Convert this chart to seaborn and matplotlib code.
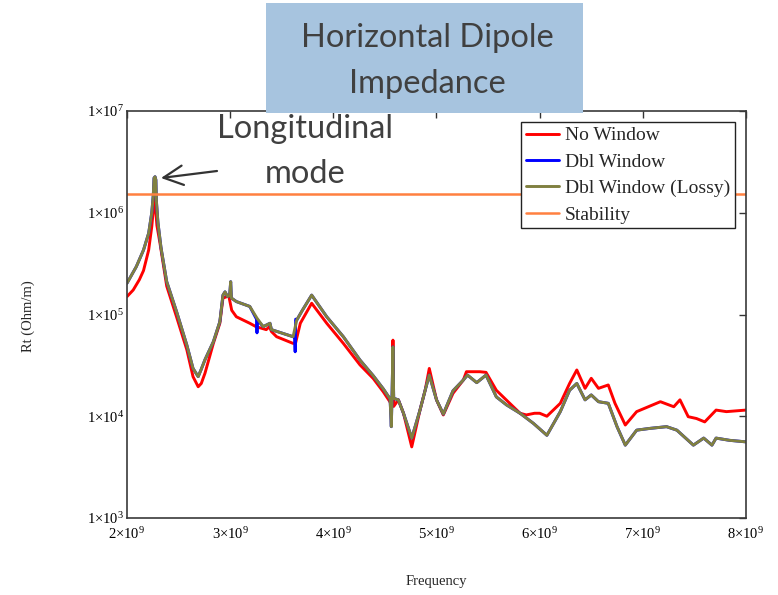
import numpy as np
import matplotlib
matplotlib.use("Agg")
import matplotlib.pyplot as plt
from matplotlib.patches import Rectangle
import seaborn as sns

# ---------------- data ----------------
freq_no_window_ghz = [2.00, 2.06, 2.12, 2.16, 2.21, 2.24, 2.255, 2.265, 2.272, 2.28, 2.29, 2.32,
                      2.385, 2.48, 2.58, 2.64, 2.69, 2.72, 2.756, 2.837, 2.90, 2.93, 2.97, 2.985,
                      3.015, 3.06, 3.19, 3.25, 3.35, 3.38, 3.40, 3.45, 3.61, 3.635, 3.68, 3.79,
                      3.936, 4.097, 4.258, 4.387, 4.484, 4.55, 4.572, 4.578, 4.585, 4.63, 4.68,
                      4.76, 4.84, 4.89, 4.93, 5.00, 5.066, 5.16, 5.26, 5.29, 5.42, 5.48, 5.58,
                      5.71, 5.81, 5.87, 5.95, 6.00, 6.07, 6.20, 6.29, 6.36, 6.44, 6.50, 6.57,
                      6.665, 6.73, 6.83, 6.94, 7.17, 7.30, 7.36, 7.44, 7.52, 7.60, 7.71, 7.81, 8.00]
rt_no_window = [1.5e5, 1.74e5, 2.2e5, 2.7e5, 4.3e5, 7.3e5, 1.07e6, 1.35e6, 1.4e6, 1.0e6, 7.5e5, 5.0e5,
                1.9e5, 9.5e4, 4.5e4, 2.45e4, 1.95e4, 2.1e4, 2.65e4, 5.2e4, 8.2e4, 1.45e5, 1.5e5, 1.55e5,
                1.1e5, 9.5e4, 8.2e4, 7.6e4, 7.1e4, 7.6e4, 6.8e4, 6.05e4, 5.2e4, 5.3e4, 8.2e4, 1.29e5,
                8.2e4, 5.2e4, 3.2e4, 2.35e4, 1.74e4, 1.38e4, 1.3e4, 5.6e4, 1.25e4, 1.45e4, 1.07e4,
                5.0e3, 1.15e4, 1.8e4, 2.95e4, 1.45e4, 1.03e4, 1.68e4, 2.27e4, 2.74e4, 2.74e4, 2.7e4, 1.8e4,
                1.34e4, 1.07e4, 1.03e4, 1.07e4, 1.07e4, 1.0e4, 1.34e4, 2.1e4, 2.85e4, 1.88e4, 2.36e4, 1.88e4,
                2.03e4, 1.34e4, 8.2e3, 1.11e4, 1.39e4, 1.24e4, 1.45e4, 9.9e3, 9.5e3, 8.8e3, 1.15e4, 1.11e4, 1.15e4]

freq_dbl_ghz = [2.00, 2.09, 2.16, 2.21, 2.24, 2.255, 2.262, 2.272, 2.28, 2.285, 2.30, 2.33,
                2.385, 2.48, 2.58, 2.64, 2.69, 2.72, 2.756, 2.837, 2.90, 2.93, 2.95, 2.975,
                2.995, 3.005, 3.012, 3.06, 3.19, 3.255, 3.26, 3.265, 3.32, 3.386, 3.40, 3.515,
                3.61, 3.625, 3.63, 3.635, 3.645, 3.70, 3.79, 3.936, 4.097, 4.258, 4.387, 4.484,
                4.55, 4.562, 4.570, 4.578, 4.585, 4.63, 4.68, 4.76, 4.84, 4.89, 4.93, 5.00,
                5.066, 5.16, 5.26, 5.30, 5.39, 5.48, 5.58, 5.68, 5.81, 5.94, 6.07, 6.20, 6.29,
                6.36, 6.44, 6.50, 6.57, 6.665, 6.75, 6.83, 6.94, 7.07, 7.23, 7.33, 7.49, 7.59,
                7.67, 7.71, 7.84, 8.00]
rt_dbl = [2.03e5, 2.95e5, 4.3e5, 6.3e5, 1.0e6, 1.5e6, 2.2e6, 2.26e6, 2.1e6, 1.3e6, 8.0e5, 4.5e5,
          2.1e5, 1.07e5, 5.0e4, 2.95e4, 2.45e4, 2.9e4, 3.6e4, 5.4e4, 8.5e4, 1.55e5, 1.67e5, 1.5e5,
          1.55e5, 2.1e5, 1.45e5, 1.34e5, 1.2e5, 9.0e4, 6.6e4, 8.8e4, 7.6e4, 8.2e4, 7.1e4, 6.5e4,
          6.05e4, 6.0e4, 4.3e4, 9.0e4, 8.8e4, 1.1e5, 1.55e5, 9.5e4, 6.05e4, 3.57e4, 2.5e4, 1.86e4,
          1.48e4, 7.9e3, 1.8e4, 4.8e4, 1.5e4, 1.45e4, 1.07e4, 6.1e3, 1.15e4, 1.8e4, 2.54e4, 1.45e4,
          1.05e4, 1.78e4, 2.27e4, 2.54e4, 2.14e4, 2.54e4, 1.55e4, 1.29e4, 1.07e4, 8.5e3, 6.5e3, 1.11e4, 1.8e4,
          2.1e4, 1.45e4, 1.62e4, 1.39e4, 1.34e4, 7.9e3, 5.2e3, 7.3e3, 7.6e3, 7.9e3, 7.3e3, 5.2e3, 6.1e3,
          5.2e3, 6.1e3, 5.8e3, 5.6e3]

freq_lossy_ghz = [2.00, 2.09, 2.16, 2.21, 2.24, 2.255, 2.262, 2.272, 2.28, 2.285, 2.30, 2.33,
                  2.385, 2.48, 2.58, 2.64, 2.69, 2.72, 2.756, 2.837, 2.90, 2.93, 2.95, 2.975,
                  2.995, 3.005, 3.012, 3.06, 3.19, 3.26, 3.32, 3.386, 3.40, 3.515,
                  3.61, 3.645, 3.70, 3.79, 3.936, 4.097, 4.258, 4.387, 4.484,
                  4.55, 4.562, 4.570, 4.578, 4.585, 4.63, 4.68, 4.76, 4.84, 4.89, 4.93, 5.00,
                  5.066, 5.16, 5.26, 5.30, 5.39, 5.48, 5.58, 5.68, 5.81, 5.94, 6.07, 6.20, 6.29,
                  6.36, 6.44, 6.50, 6.57, 6.665, 6.75, 6.83, 6.94, 7.07, 7.23, 7.33, 7.49, 7.59,
                  7.67, 7.71, 7.84, 8.00]
rt_lossy = [2.03e5, 2.95e5, 4.3e5, 6.3e5, 1.0e6, 1.5e6, 2.2e6, 2.26e6, 2.1e6, 1.3e6, 8.0e5, 4.5e5,
            2.1e5, 1.07e5, 5.0e4, 2.95e4, 2.45e4, 2.9e4, 3.6e4, 5.4e4, 8.5e4, 1.55e5, 1.67e5, 1.5e5,
            1.55e5, 2.1e5, 1.45e5, 1.34e5, 1.2e5, 9.2e4, 7.6e4, 8.2e4, 7.1e4, 6.5e4,
            6.05e4, 8.8e4, 1.1e5, 1.55e5, 9.5e4, 6.05e4, 3.57e4, 2.5e4, 1.86e4,
            1.48e4, 7.9e3, 1.8e4, 4.8e4, 1.5e4, 1.45e4, 1.07e4, 6.1e3, 1.15e4, 1.8e4, 2.54e4, 1.45e4,
            1.05e4, 1.78e4, 2.27e4, 2.54e4, 2.14e4, 2.54e4, 1.55e4, 1.29e4, 1.07e4, 8.5e3, 6.5e3, 1.11e4, 1.8e4,
            2.1e4, 1.45e4, 1.62e4, 1.39e4, 1.34e4, 7.9e3, 5.2e3, 7.3e3, 7.6e3, 7.9e3, 7.3e3, 5.2e3, 6.1e3,
            5.2e3, 6.1e3, 5.8e3, 5.6e3]

stability_rt = 1.53e6

series_names = ["No Window", "Dbl Window", "Dbl Window (Lossy)", "Stability"]
series_colors = ["#ff0000", "#0000ff", "#808040", "#ff8040"]

x_ticks_ghz = [2, 3, 4, 5, 6, 7, 8]
x_tick_labels = ["2×10$^{9}$", "3×10$^{9}$", "4×10$^{9}$", "5×10$^{9}$",
                 "6×10$^{9}$", "7×10$^{9}$", "8×10$^{9}$"]
y_ticks = [1e3, 1e4, 1e5, 1e6, 1e7]
y_tick_labels = ["1×10$^{3}$", "1×10$^{4}$", "1×10$^{5}$", "1×10$^{6}$", "1×10$^{7}$"]

title_lines = ["Horizontal Dipole", "Impedance"]
note_lines = ["Longitudinal", "mode"]
x_label = "Frequency"
y_label = "Rt (Ohm/m)"

# ---------------- style ----------------
sns.set_style("white")
plt.rcParams["font.family"] = ["Liberation Serif", "DejaVu Serif"]
plt.rcParams["mathtext.fontset"] = "custom"
plt.rcParams["mathtext.rm"] = "Liberation Serif"
plt.rcParams["mathtext.default"] = "regular"

W, H = 778, 595
fig = plt.figure(figsize=(W / 100, H / 100), dpi=100)
fig.patch.set_facecolor("white")

def fx(px):
    return px / W

def fy(py):
    return 1 - py / H

ax_l, ax_r, ax_t, ax_b = 127, 746, 111, 518
ax = fig.add_axes([fx(ax_l), fy(ax_b), (ax_r - ax_l) / W, (ax_b - ax_t) / H])

series = [
    (freq_no_window_ghz, rt_no_window),
    (freq_dbl_ghz, rt_dbl),
    (freq_lossy_ghz, rt_lossy),
]
for (fq, rt), name, col in zip(series, series_names[:3], series_colors[:3]):
    sns.lineplot(x=np.asarray(fq) * 1e9, y=rt, ax=ax, color=col, lw=2.1,
                 label=name, estimator=None, sort=False)
ax.axhline(stability_rt, color=series_colors[3], lw=1.8, label=series_names[3])

ax.set_yscale("log")
ax.set_xlim(2e9, 8e9)
ax.set_ylim(1e3, 1e7)
ax.set_xticks(np.asarray(x_ticks_ghz) * 1e9)
ax.set_xticklabels(x_tick_labels)
ax.set_yticks(y_ticks)
ax.set_yticklabels(y_tick_labels)
ax.minorticks_off()
ax.tick_params(axis="both", which="major", direction="in", length=5, width=1.0,
               color="#333333", top=True, right=True, labelsize=10.5, labelcolor="black")
ax.tick_params(axis="x", pad=6)
ax.tick_params(axis="y", pad=2)
ax.set_xlabel("")
ax.set_ylabel("")
for sp in ax.spines.values():
    sp.set_visible(True)
    sp.set_color("#3a3a3a")
    sp.set_linewidth(1.2)

leg = ax.legend(loc="upper right", bbox_to_anchor=(1 - 11 / (ax_r - ax_l), 1 - 11 / (ax_b - ax_t)),
                fontsize=14, frameon=True, fancybox=False, framealpha=1, edgecolor="#222222",
                handlelength=1.7, handletextpad=0.3, borderpad=0.25, labelspacing=0.45,
                borderaxespad=0)
leg.get_frame().set_linewidth(1.0)

fig.text(fx(28), fy(316), y_label, rotation=90, ha="center", va="center", fontsize=10.5)
fig.text(fx(436), fy(582), x_label, ha="center", va="center", fontsize=10.5)

# title box
title_font = ["Lato", "DejaVu Sans"]
fig.add_artist(Rectangle((fx(266), fy(113)), 317 / W, 110 / H, transform=fig.transFigure,
                         facecolor="#a7c4df", edgecolor="none", zorder=10))
fig.text(fx(427), fy(46.7), title_lines[0], ha="center", va="baseline", fontsize=23.5,
         family=title_font, color="#404040", zorder=11)
fig.text(fx(427), fy(92.7), title_lines[1], ha="center", va="baseline", fontsize=23.5,
         family=title_font, color="#404040", zorder=11)

# annotation
fig.text(fx(305), fy(138.3), note_lines[0], ha="center", va="baseline", fontsize=23.5,
         family=title_font, color="#404040", zorder=11)
fig.text(fx(305), fy(183.3), note_lines[1], ha="center", va="baseline", fontsize=23.5,
         family=title_font, color="#404040", zorder=11)
ax.annotate("", xy=(fx(161), fy(178)), xycoords="figure fraction",
            xytext=(fx(217), fy(171)), textcoords="figure fraction",
            arrowprops=dict(arrowstyle="->,head_length=0.7,head_width=0.35", color="#333333",
                            lw=1.6, mutation_scale=20, shrinkA=0, shrinkB=0))

fig.savefig("out.png", dpi=100)
